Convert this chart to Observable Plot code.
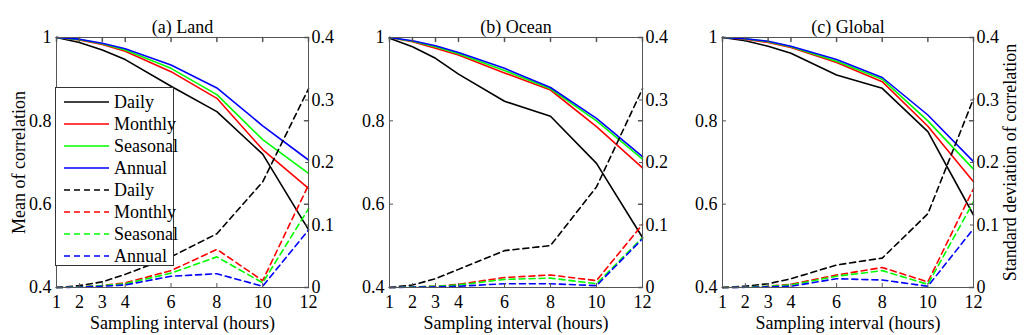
<!DOCTYPE html>
<html>
<head>
<meta charset="utf-8">
<script src="https://cdn.jsdelivr.net/npm/d3@7"></script>
<script src="https://cdn.jsdelivr.net/npm/@observablehq/plot@0.6"></script>
<style>
  body { margin: 0; background: white; }
  #wrap { position: relative; width: 1024px; height: 335px; overflow: hidden; background: white; font-family: 'Liberation Serif', 'Times New Roman', serif; }
  .panel { position: absolute; top: 0; }
  #legend { position: absolute; left: 55px; top: 87px; width: 119px; height: 179px; border: 1px solid #333; background: white; box-sizing: border-box; }
  .entry { position: absolute; left: 8px; height: 22px; display: flex; align-items: center; font-size: 18px; white-space: nowrap; }
  .entry svg { margin-right: 5px; }
</style>
</head>
<body>
<div id="wrap"></div>
<script>
const intervals = [1, 2, 3, 4, 6, 8, 10, 12];
const series = ["Daily", "Monthly", "Seasonal", "Annual"];
const colors = ["#000000", "#ff0000", "#00ff00", "#0000ff"];
const leftTicks = [0.4, 0.6, 0.8, 1];
const rightTickLabels = [0, 0.1, 0.2, 0.3, 0.4];
const titles = ["(a) Land", "(b) Ocean", "(c) Global"];

// (a) Land – mean of correlation
const landMeanDaily    = [1.000, 0.988, 0.970, 0.947, 0.883, 0.822, 0.720, 0.539];
const landMeanMonthly  = [1.000, 0.994, 0.983, 0.967, 0.918, 0.854, 0.731, 0.638];
const landMeanSeasonal = [1.000, 0.995, 0.985, 0.970, 0.926, 0.863, 0.755, 0.674];
const landMeanAnnual   = [1.000, 0.996, 0.986, 0.973, 0.934, 0.879, 0.788, 0.706];
// (a) Land – standard deviation
const landStdDaily     = [0, 0.003, 0.009, 0.021, 0.049, 0.086, 0.169, 0.318];
const landStdMonthly   = [0, 0.001, 0.003, 0.0075, 0.027, 0.061, 0.011, 0.164];
const landStdSeasonal  = [0, 0.001, 0.003, 0.006, 0.023, 0.049, 0.0075, 0.126];
const landStdAnnual    = [0, 0.0005, 0.002, 0.004, 0.018, 0.022, 0.002, 0.092];

// (b) Ocean
const oceanMeanDaily    = [0.998, 0.978, 0.950, 0.912, 0.847, 0.811, 0.698, 0.520];
const oceanMeanMonthly  = [1.000, 0.990, 0.974, 0.958, 0.915, 0.874, 0.786, 0.687];
const oceanMeanSeasonal = [1.000, 0.991, 0.978, 0.961, 0.921, 0.877, 0.800, 0.708];
const oceanMeanAnnual   = [1.000, 0.992, 0.980, 0.964, 0.926, 0.880, 0.806, 0.714];
const oceanStdDaily     = [0, 0.004, 0.014, 0.029, 0.059, 0.067, 0.161, 0.318];
const oceanStdMonthly   = [0, 0.001, 0.002, 0.005, 0.016, 0.020, 0.011, 0.101];
const oceanStdSeasonal  = [0, 0.001, 0.002, 0.004, 0.013, 0.015, 0.006, 0.080];
const oceanStdAnnual    = [0, 0.0005, 0.001, 0.002, 0.006, 0.006, 0.003, 0.078];

// (c) Global
const globalMeanDaily    = [1.000, 0.992, 0.979, 0.962, 0.910, 0.878, 0.774, 0.574];
const globalMeanMonthly  = [1.000, 0.996, 0.988, 0.976, 0.940, 0.894, 0.787, 0.654];
const globalMeanSeasonal = [1.000, 0.997, 0.990, 0.978, 0.943, 0.900, 0.800, 0.684];
const globalMeanAnnual   = [1.000, 0.997, 0.991, 0.979, 0.947, 0.904, 0.814, 0.702];
const globalStdDaily     = [0, 0.002, 0.006, 0.014, 0.036, 0.047, 0.118, 0.302];
const globalStdMonthly   = [0, 0.0005, 0.002, 0.005, 0.020, 0.032, 0.009, 0.158];
const globalStdSeasonal  = [0, 0.0005, 0.002, 0.004, 0.018, 0.027, 0.005, 0.137];
const globalStdAnnual    = [0, 0.0003, 0.001, 0.002, 0.014, 0.012, 0.002, 0.094];

// the std (right axis, 0..0.4) shares the left scale (0.4..1)
const toLeft = s => 0.4 + 1.5 * s;

function rowsFor(arrays) {
  const rows = [];
  arrays.forEach((arr, i) => arr.forEach((v, j) => rows.push({x: intervals[j], v, s: series[i]})));
  return rows;
}

const FONT = "'Liberation Serif', 'Times New Roman', serif";
const tickShape = {draw(context, l) { context.moveTo(0, 0); context.lineTo(0, -l); }};

const panels = [
  {title: titles[0], mean: [landMeanDaily, landMeanMonthly, landMeanSeasonal, landMeanAnnual],
   std: [landStdDaily, landStdMonthly, landStdSeasonal, landStdAnnual],
   left: 0, width: 340, marginLeft: 56, marginRight: 32, leftLabel: "Mean of correlation", rightLabel: null},
  {title: titles[1], mean: [oceanMeanDaily, oceanMeanMonthly, oceanMeanSeasonal, oceanMeanAnnual],
   std: [oceanStdDaily, oceanStdMonthly, oceanStdSeasonal, oceanStdAnnual],
   left: 340, width: 340, marginLeft: 49, marginRight: 38, leftLabel: null, rightLabel: null},
  {title: titles[2], mean: [globalMeanDaily, globalMeanMonthly, globalMeanSeasonal, globalMeanAnnual],
   std: [globalStdDaily, globalStdMonthly, globalStdSeasonal, globalStdAnnual],
   left: 680, width: 344, marginLeft: 42, marginRight: 51, leftLabel: null, rightLabel: "Standard deviation of correlation"}
];

const wrap = document.getElementById("wrap");

for (const p of panels) {
  const meanRows = rowsFor(p.mean);
  const stdRows = rowsFor(p.std);
  const chart = Plot.plot({
    width: p.width,
    height: 335,
    marginTop: 37,
    marginBottom: 48,
    marginLeft: p.marginLeft,
    marginRight: p.marginRight,
    style: {fontFamily: FONT, fontSize: "18px", background: "white", color: "black", overflow: "visible"},
    x: {domain: [1, 12]},
    y: {domain: [0.4, 1]},
    color: {domain: series, range: colors},
    marks: [
      Plot.line(meanRows, {x: "x", y: "v", z: "s", stroke: "s", strokeWidth: 1.6}),
      Plot.line(stdRows, {x: "x", y: d => toLeft(d.v), z: "s", stroke: "s", strokeWidth: 1.6, strokeDasharray: "6,4"}),
      Plot.frame({stroke: "#555", strokeWidth: 1}),
      Plot.axisX({ticks: intervals, tickSize: -4, tickPadding: 12, tickFormat: d => String(d),
        label: "Sampling interval (hours)", labelAnchor: "center", labelArrow: "none", labelOffset: 41, stroke: "#555"}),
      // mirrored inward ticks on top and right edges (MATLAB box)
      Plot.vector(intervals, {x: d => d, y: 1, length: 4, rotate: 180, anchor: "start", shape: tickShape, stroke: "#555"}),
      Plot.vector(leftTicks, {x: 12, y: d => d, length: 4, rotate: -90, anchor: "start", shape: tickShape, stroke: "#555"}),
      Plot.axisY({anchor: "left", ticks: leftTicks, tickSize: -4, tickPadding: 9, tickFormat: d => String(d),
        label: p.leftLabel, labelAnchor: "center", labelArrow: "none", labelOffset: 44, stroke: "#555"}),
      Plot.axisY({anchor: "right", ticks: rightTickLabels.map(toLeft), tickSize: -4, tickPadding: 7,
        tickFormat: (d, i) => String(rightTickLabels[i]),
        label: p.rightLabel, labelAnchor: "center", labelArrow: "none", labelOffset: 42, stroke: "#555"}),
      Plot.text([p.title], {text: d => d, frameAnchor: "top", dy: -17, fontSize: 18})
    ]
  });
  chart.classList.add("panel");
  chart.style.left = p.left + "px";
  wrap.appendChild(chart);
}

// legend
const legend = document.createElement("div");
legend.id = "legend";
const entries = [];
series.forEach((s, i) => entries.push({s, c: colors[i], dash: null}));
series.forEach((s, i) => entries.push({s, c: colors[i], dash: "6,4"}));
entries.forEach((e, k) => {
  const div = document.createElement("div");
  div.className = "entry";
  div.style.top = (3 + k * 22) + "px";
  div.innerHTML = `<svg width="45" height="10"><line x1="0" x2="45" y1="5" y2="5" stroke="${e.c}" stroke-width="1.6" ${e.dash ? `stroke-dasharray="${e.dash}"` : ""}/></svg><span>${e.s}</span>`;
  legend.appendChild(div);
});
wrap.appendChild(legend);
</script>
</body>
</html>
